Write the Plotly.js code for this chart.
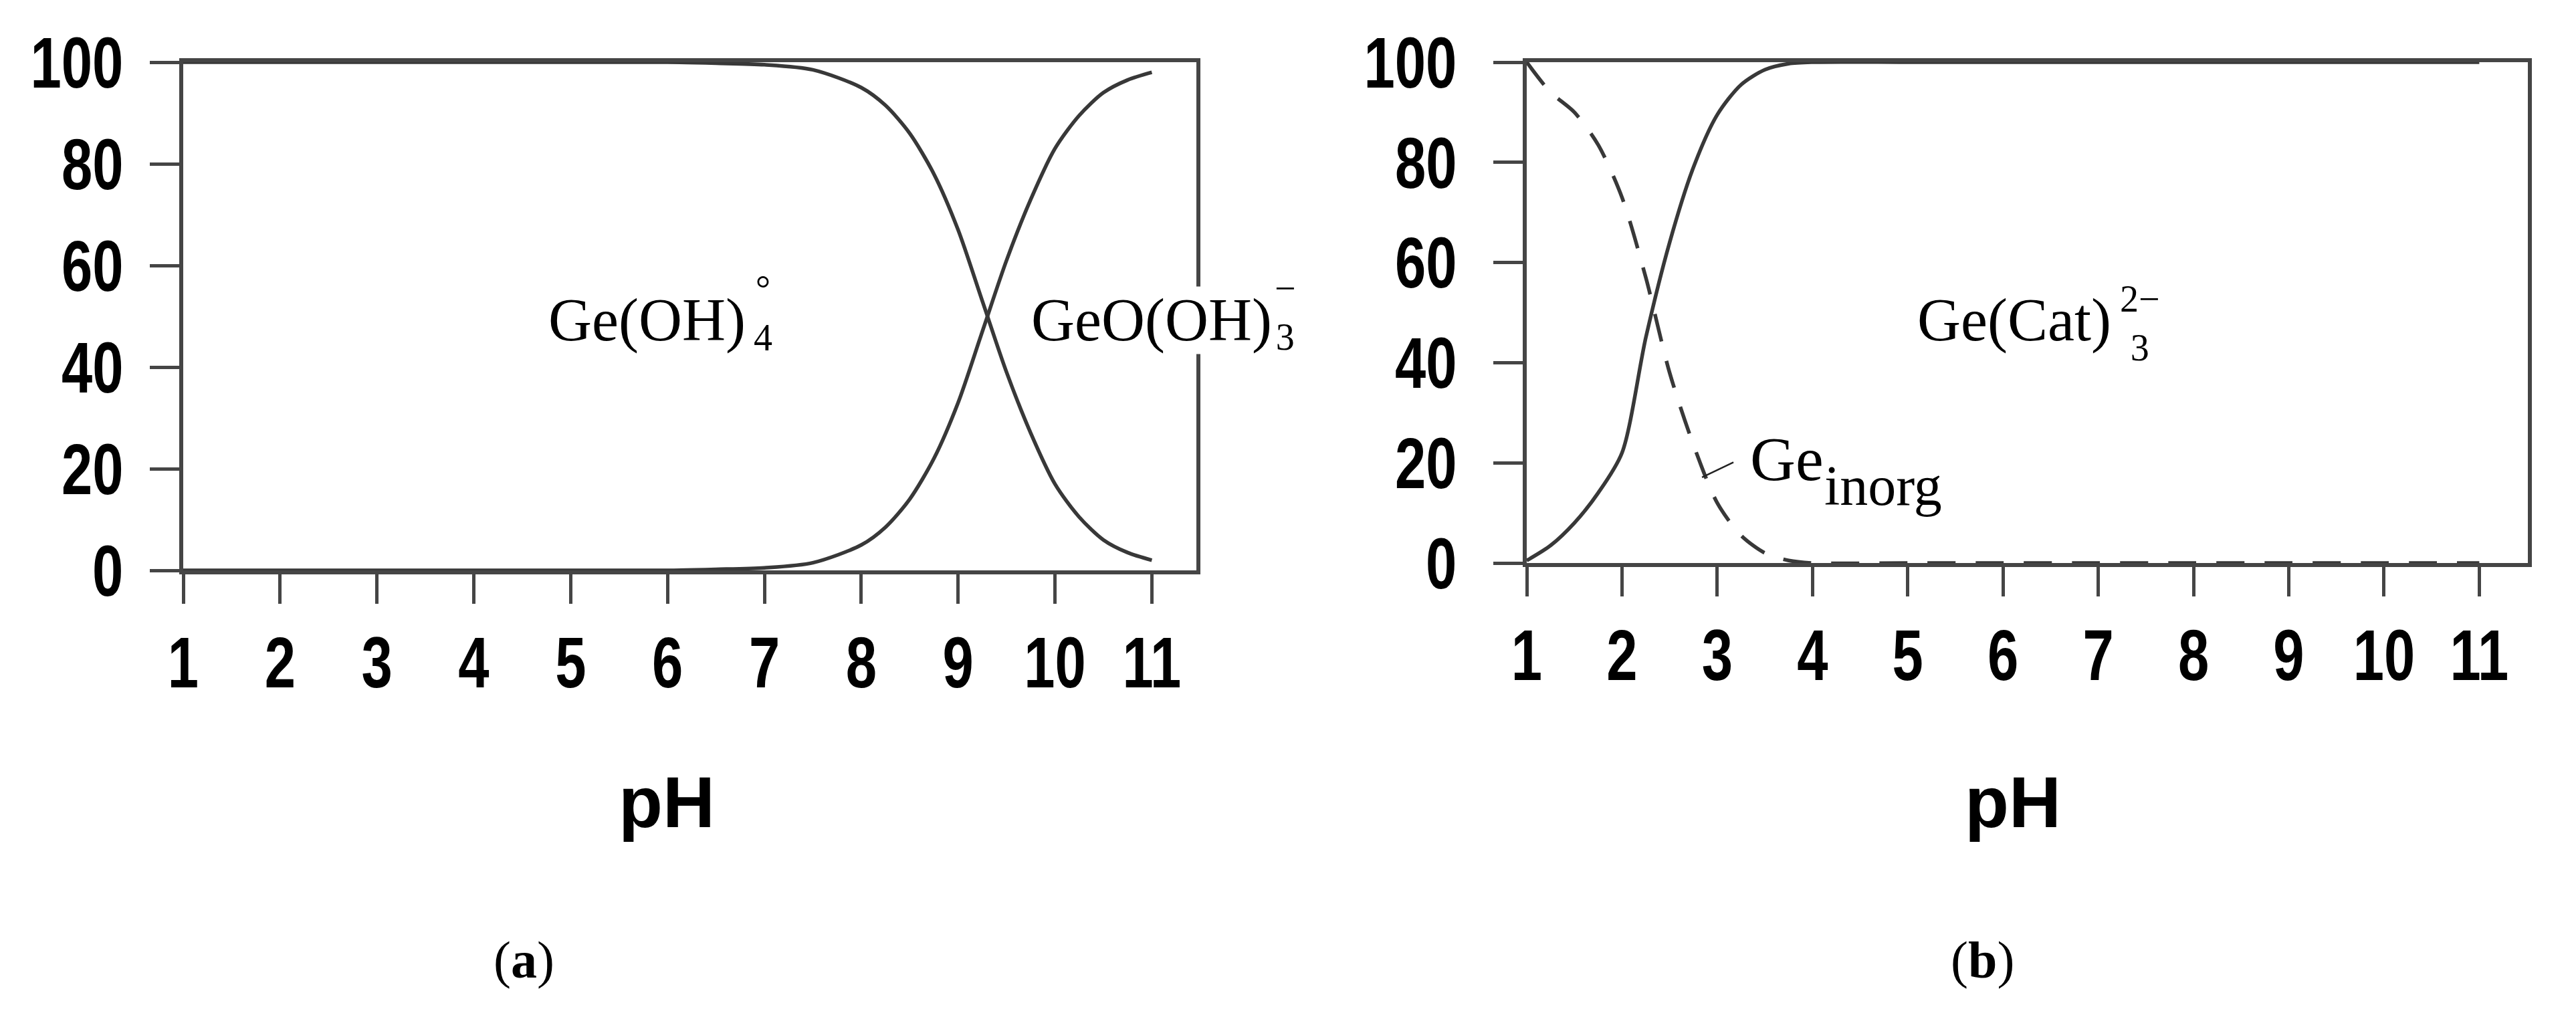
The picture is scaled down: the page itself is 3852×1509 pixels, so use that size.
<!DOCTYPE html>
<html>
<head>
<meta charset="utf-8">
<script src="https://cdn.plot.ly/plotly-3.0.1.min.js"></script>
<style>
  html, body { margin: 0; padding: 0; background: #fff; }
  #plot { width: 3852px; height: 1509px; }
</style>
</head>
<body>
<div id="plot"></div>
<script>
// (a) Ge(OH)4 / GeO(OH)3- speciation vs pH
const phA = [1, 2, 3, 4, 5, 6, 6.5, 7, 7.5, 8, 8.25, 8.5, 8.75, 9, 9.25, 9.5, 9.75, 10, 10.25, 10.5, 10.75, 11];
const geOH4 = [100, 100, 100, 100, 100, 100, 99.8, 99.5, 98.5, 95, 91.5, 86, 78, 67, 53, 39, 27, 17, 10.5, 6, 3.5, 2];
const geOOH3 = [0, 0, 0, 0, 0, 0, 0.2, 0.5, 1.5, 5, 8.5, 14, 22, 33, 47, 61, 73, 83, 89.5, 94, 96.5, 98];

// (b) catechol complex vs inorganic Ge
const phB = [1, 1.25, 1.5, 1.75, 2, 2.25, 2.5, 2.75, 3, 3.25, 3.5, 3.75, 4, 5, 6, 7, 8, 9, 10, 11];
const geCat = [0.5, 3.5, 8, 14, 22, 45, 64, 79, 89.5, 95.5, 98.5, 99.7, 100, 100, 100, 100, 100, 100, 100, 100];
const geInorg = [100, 94, 90, 83.5, 73, 57, 38, 23.6, 12, 5.5, 2, 0.5, 0, 0, 0, 0, 0, 0, 0, 0];

const xTicks = [1, 2, 3, 4, 5, 6, 7, 8, 9, 10, 11];
const yTicks = [0, 20, 40, 60, 80, 100];

const lineCol = '#454545';
const curveCol = '#383838';
const tickFont = { family: 'Liberation Sans, Arial, sans-serif', size: 108, color: '#000', weight: 700 };
const serif = 'Liberation Serif, Times New Roman, serif';

function xAxis(domain, max, anchor) {
    return {
        domain: domain, range: [1, max], anchor: anchor,
        tickmode: 'array', tickvals: xTicks, ticktext: xTicks.map(String),
        ticks: 'outside', ticklen: 44, tickwidth: 5, tickcolor: lineCol,
        showline: true, linewidth: 6, linecolor: lineCol, mirror: true,
        showgrid: false, zeroline: false, tickfont: tickFont, ticklabelstandoff: -5
    };
}
function yAxis(domain, anchor, standoff) {
    return {
        domain: domain, range: [0, 100], anchor: anchor,
        tickmode: 'array', tickvals: yTicks, ticktext: yTicks.map(String),
        ticks: 'outside', ticklen: 44, tickwidth: 5, tickcolor: lineCol,
        showline: true, linewidth: 6, linecolor: lineCol, mirror: true,
        showgrid: false, zeroline: false, tickfont: tickFont, ticklabelstandoff: standoff
    };
}

const data = [
    { x: phA, y: geOH4, xaxis: 'x', yaxis: 'y', mode: 'lines', line: { color: curveCol, width: 5.5, shape: 'spline', smoothing: 0.8 } },
    { x: phA, y: geOOH3, xaxis: 'x', yaxis: 'y', mode: 'lines', line: { color: curveCol, width: 5.5, shape: 'spline', smoothing: 0.8 } },
    { x: phB, y: geCat, xaxis: 'x2', yaxis: 'y2', mode: 'lines', line: { color: curveCol, width: 5.5, shape: 'spline', smoothing: 0.8 } },
    { x: phB, y: geInorg, xaxis: 'x2', yaxis: 'y2', mode: 'lines', line: { color: curveCol, width: 5.5, dash: '42px,30px', shape: 'spline', smoothing: 0.8 } }
];

function label(text, xref, yref, x, y, size, extra) {
    return Object.assign({ text: text, xref: xref, yref: yref, x: x, y: y, showarrow: false,
        xanchor: 'left', yanchor: 'middle', borderpad: 0,
        font: { family: serif, size: size, color: '#000' } }, extra || {});
}

const annotations = [
    // panel (a)
    label('Ge(OH)', 'x', 'y', 4.76, 49.2, 90),
    label('°<br>4', 'x', 'y', 6.88, 50.6, 56),
    label('GeO(OH)', 'x', 'y', 9.75, 49.2, 90, { bgcolor: '#fff' }),
    label('−<br>3', 'paper', 'paper', 0.4946, 0.6902, 56, { bgcolor: '#fff' }),
    // panel (b)
    label('Ge(Cat)', 'x2', 'y2', 5.09, 48.5, 90),
    label('2−<br>3', 'x2', 'y2', 7.22, 47.8, 56),
    label('Ge', 'x2', 'y2', 3.34, 20.8, 94),
    label('inorg', 'x2', 'y2', 4.12, 15.4, 84),
    // axis titles and panel captions
    { text: 'pH', xref: 'paper', yref: 'paper', x: 0.2588, y: 0.2054, xanchor: 'center', yanchor: 'middle', showarrow: false,
      font: { family: 'Liberation Sans, Arial, sans-serif', size: 108, color: '#000', weight: 700 } },
    { text: 'pH', xref: 'paper', yref: 'paper', x: 0.7814, y: 0.2054, xanchor: 'center', yanchor: 'middle', showarrow: false,
      font: { family: 'Liberation Sans, Arial, sans-serif', size: 108, color: '#000', weight: 700 } },
    { text: '(<b>a</b>)', xref: 'paper', yref: 'paper', x: 0.2033, y: 0.0484, xanchor: 'center', yanchor: 'middle', showarrow: false,
      font: { family: serif, size: 78, color: '#000' } },
    { text: '(<b>b</b>)', xref: 'paper', yref: 'paper', x: 0.7695, y: 0.0484, xanchor: 'center', yanchor: 'middle', showarrow: false,
      font: { family: serif, size: 78, color: '#000' } }
];

// short leader from the dashed curve to the Ge_inorg label
const shapes = [
    { type: 'line', xref: 'x2', yref: 'y2', x0: 2.84, y0: 17.1, x1: 3.17, y1: 20.1, line: { color: '#222', width: 2.5 } }
];

const layout = {
    width: 3852, height: 1509,
    margin: { l: 0, r: 0, t: 0, b: 0 },
    paper_bgcolor: '#fff', plot_bgcolor: '#fff',
    showlegend: false,
    xaxis: xAxis([274 / 3852, 1789 / 3852], 11.46, 'y'),
    yaxis: yAxis([656 / 1509, 1416 / 1509], 'x', 18),
    xaxis2: xAxis([2283 / 3852, 3780 / 3852], 11.51, 'y2'),
    yaxis2: yAxis([667 / 1509, 1416 / 1509], 'x2', 33),
    annotations: annotations,
    shapes: shapes
};

Plotly.newPlot('plot', data, layout, { staticPlot: true }).then(function () {
    // the original tick numbers are set in a narrow bold face; squeeze the glyphs to match
    document.querySelectorAll('.xtick text, .ytick text, .x2tick text, .y2tick text').forEach(function (t) {
        t.setAttribute('textLength', (t.getComputedTextLength() * 0.77).toFixed(1));
        t.setAttribute('lengthAdjust', 'spacingAndGlyphs');
    });
});
</script>
</body>
</html>
